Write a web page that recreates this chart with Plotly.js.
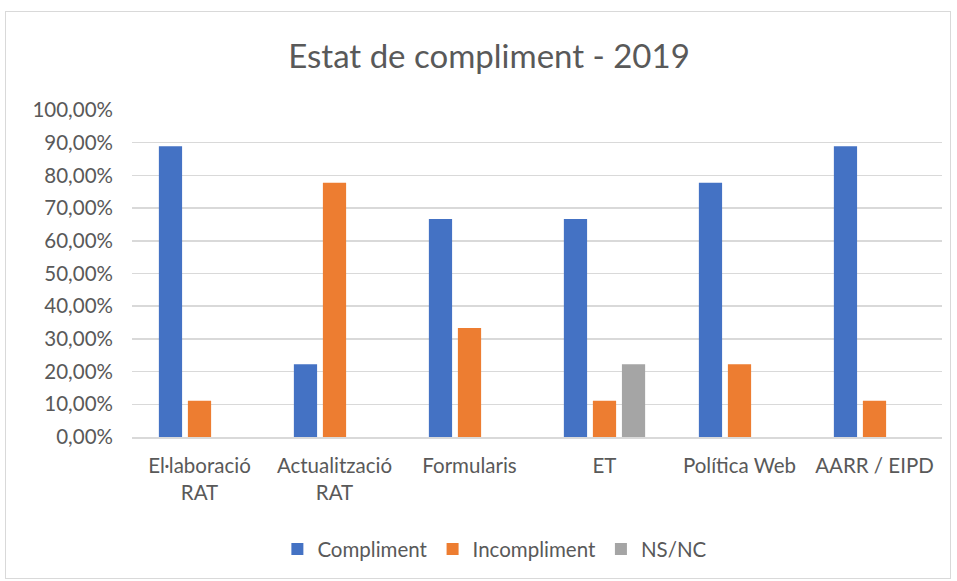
<!DOCTYPE html>
<html><head><meta charset="utf-8">
<script src="https://cdn.plot.ly/plotly-3.0.1.min.js"></script>
<style>html,body{margin:0;padding:0;background:#fff}#frame{position:absolute;left:5px;top:11px;width:944px;height:566px;border:1px solid #d9d9d9;pointer-events:none;z-index:5}#chart{width:957px;height:581px}</style>
</head><body>
<div id="frame"></div>
<div id="chart"></div>
<script>
const categories = ["El·laboració<br>RAT", "Actualització<br>RAT", "Formularis", "ET", "Política Web", "AARR / EIPD"];
const compliment = [0.8889, 0.2222, 0.6667, 0.6667, 0.7778, 0.8889];
const incompliment = [0.1111, 0.7778, 0.3333, 0.1111, 0.2222, 0.1111];
const nsnc = [null, null, null, 0.2222, null, null];
const seriesNames = ["Compliment", "Incompliment", "NS/NC"];
const colors = ["#4472c4", "#ed7d31", "#a5a5a5"];
const yTickVals = [0,0.1,0.2,0.3,0.4,0.5,0.6,0.7,0.8,0.9,1.0];

const FONT = "Lato, 'Open Sans', sans-serif";
const traces = [compliment, incompliment, nsnc].map((v,i)=>({
  type:"bar", x:categories, y:v, name:seriesNames[i],
  marker:{color:colors[i], line:{color:"#ffffff", width:0}},
  hoverinfo:"skip"
}));

const layout = {
  width:957, height:581,
  margin:{l:132, r:15, t:110, b:144},
  paper_bgcolor:"#ffffff", plot_bgcolor:"#ffffff",
  separators:", ",
  font:{family:FONT, color:"#595959", size:21},
  title:{text:"Estat de compliment - 2019", font:{family:FONT, size:33, color:"#595959"},
    xref:"container", x:0.511, xanchor:"center", yref:"container", y:0.902, yanchor:"middle"},
  barmode:"group", bargap:0.355, bargroupgap:0.2,
  xaxis:{type:"category", showgrid:false, showline:true, linecolor:"#d9d9d9", linewidth:1.5,
    ticks:"", tickfont:{size:20.5, color:"#595959"}, ticklabelstandoff:10},
  yaxis:{range:[0,1.0], tickvals:yTickVals, tickformat:".2%", showgrid:true, gridcolor:"#d9d9d9", gridwidth:1.5,
    zeroline:false, showline:false, ticks:"", tickfont:{size:20.5, color:"#595959"}, ticklabelstandoff:18},
  showlegend:true,
  legend:{orientation:"h", x:0.448, xanchor:"center", y:-0.343, yanchor:"middle",
    font:{size:20.5, color:"#595959"}, itemwidth:30, traceorder:"normal"}
};
Plotly.newPlot("chart", traces, layout, {staticPlot:true, displayModeBar:false});
</script>
</body></html>
